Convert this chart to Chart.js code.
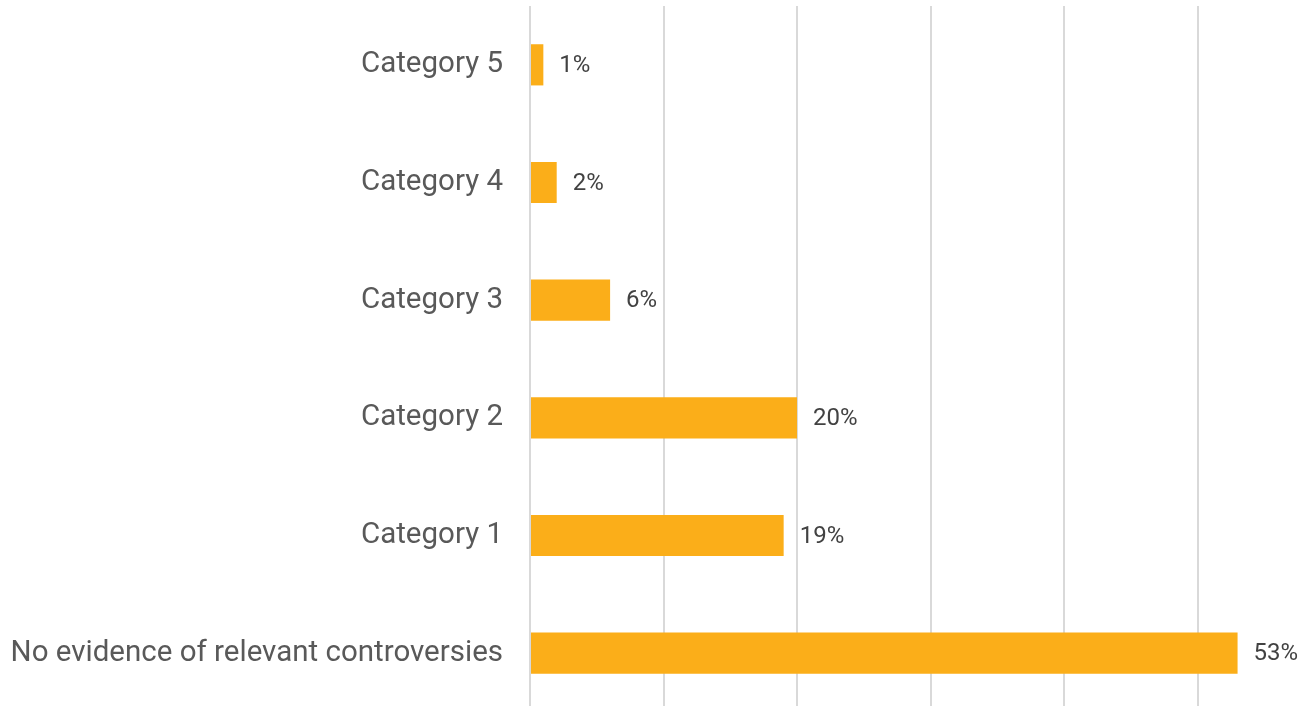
<!DOCTYPE html>
<html>
<head>
<meta charset="utf-8">
<script src="https://cdn.jsdelivr.net/npm/chart.js@4"></script>
<style>
  html, body { margin: 0; padding: 0; background: #fff; overflow: hidden; }
  #wrap { width: 1311px; height: 712px; position: relative; }
</style>
</head>
<body>
<div id="wrap"><canvas id="controversyChart"></canvas></div>
<script>
const categories = [
    "Category 5",
    "Category 4",
    "Category 3",
    "Category 2",
    "Category 1",
    "No evidence of relevant controversies"
];
const shares = [1, 2, 6, 20, 19, 53];
const gridTicks = [0, 10, 20, 30, 40, 50];

// percent labels drawn just past the end of each bar
const valueLabels = {
    id: "valueLabels",
    afterDatasetsDraw(chart) {
        const ctx = chart.ctx;
        const meta = chart.getDatasetMeta(0);
        ctx.save();
        ctx.font = "24px Roboto";
        ctx.fillStyle = "#424242";
        ctx.textAlign = "left";
        ctx.textBaseline = "middle";
        meta.data.forEach((bar, i) => {
            ctx.fillText(shares[i] + "%", bar.x + 16, bar.y + 1);
        });
        ctx.restore();
    }
};

new Chart(document.getElementById("controversyChart"), {
    type: "bar",
    data: {
        labels: categories,
        datasets: [{
            data: shares,
            backgroundColor: "#fbae19",
            borderWidth: 0,
            categoryPercentage: 1,
            barPercentage: 0.35
        }]
    },
    options: {
        indexAxis: "y",
        responsive: true,
        maintainAspectRatio: false,
        animation: false,
        layout: { padding: { top: 6, bottom: 0, left: 0, right: 0 } },
        plugins: {
            legend: { display: false },
            tooltip: { enabled: false }
        },
        scales: {
            x: {
                min: 0,
                max: 58.5,
                afterBuildTicks(scale) {
                    scale.ticks = gridTicks.map(v => ({ value: v }));
                },
                ticks: { display: false },
                grid: { color: "#d9d9d9", lineWidth: 2, drawTicks: false },
                border: { display: false }
            },
            y: {
                afterFit(scale) {
                    // fixed gutter for the labels, no extra vertical margins
                    scale.width = 530;
                    scale.paddingTop = 0;
                    scale.paddingBottom = 0;
                },
                ticks: {
                    padding: 27,
                    color: "#595959",
                    font: { family: "Roboto", size: 29.5 }
                },
                grid: { display: false, drawTicks: false },
                border: { display: false }
            }
        }
    },
    plugins: [valueLabels]
});
</script>
</body>
</html>
